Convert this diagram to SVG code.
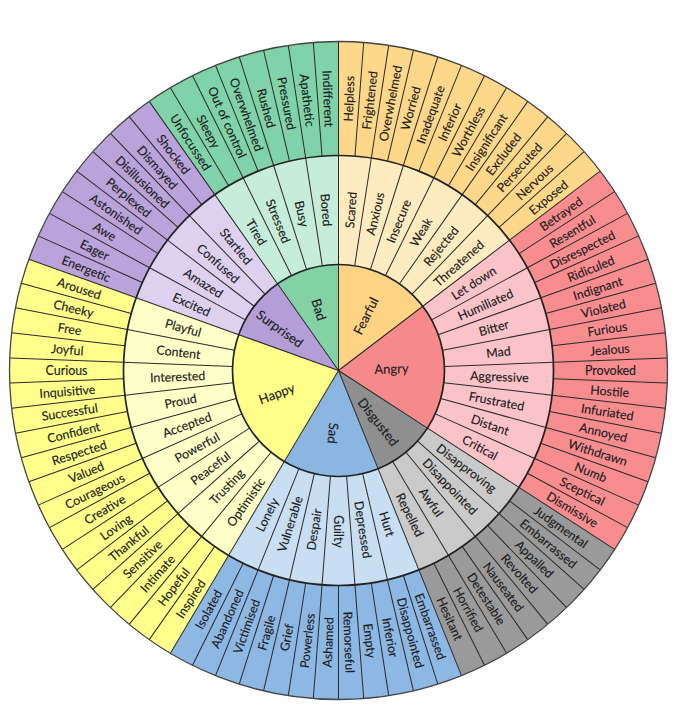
<svg xmlns="http://www.w3.org/2000/svg" width="678" height="714" viewBox="0 0 678 714">
<style>
text{font-family:Lato,"Open Sans","Liberation Sans",sans-serif;font-size:12.4px;fill:#1c1c1c;text-anchor:middle;dominant-baseline:central;stroke:#1c1c1c;stroke-width:0.15}
.core text{font-size:13px}
.d use{stroke:#2a2a2a;stroke-width:1}
.ring{fill:none;stroke:#222;stroke-width:1.7}
</style>
<defs>
<line id="lo" x1="0" y1="-215" x2="0" y2="-329"/>
<line id="lm" x1="0" y1="-106" x2="0" y2="-215"/>
<line id="lc" x1="0" y1="0" x2="0" y2="-106"/>
</defs>
<rect width="678" height="714" fill="#fff"/>

<g id="fearful">
<path fill="#FDD88A" d="M338.5 370.5L338.5 41.5A329 329 0 0 1 600.15 171.05Z"/>
<path fill="#FEECC0" d="M338.5 370.5L338.5 155.5A215 215 0 0 1 509.49 240.16Z"/>
<path fill="#FDD384" d="M338.5 370.5L338.5 264.5A106 106 0 0 1 422.8 306.24Z"/>
<g transform="translate(338.5 370.5)">
<text transform="rotate(2.195) translate(0 -272) rotate(-90)">Helpless</text>
<text transform="rotate(6.585) translate(0 -272) rotate(-90)">Frightened</text>
<text transform="rotate(10.976) translate(0 -272) rotate(-90)">Overwhelmed</text>
<text transform="rotate(15.366) translate(0 -272) rotate(-90)">Worried</text>
<text transform="rotate(19.756) translate(0 -272) rotate(-90)">Inadequate</text>
<text transform="rotate(24.146) translate(0 -272) rotate(-90)">Inferior</text>
<text transform="rotate(28.537) translate(0 -272) rotate(-90)">Worthless</text>
<text transform="rotate(32.927) translate(0 -272) rotate(-90)">Insignificant</text>
<text transform="rotate(37.317) translate(0 -272) rotate(-90)">Excluded</text>
<text transform="rotate(41.707) translate(0 -272) rotate(-90)">Persecuted</text>
<text transform="rotate(46.098) translate(0 -272) rotate(-90)">Nervous</text>
<text transform="rotate(50.488) translate(0 -272) rotate(-90)">Exposed</text>
<text transform="rotate(4.390) translate(0 -161) rotate(-90)">Scared</text>
<text transform="rotate(13.171) translate(0 -161) rotate(-90)">Anxious</text>
<text transform="rotate(21.951) translate(0 -161) rotate(-90)">Insecure</text>
<text transform="rotate(30.732) translate(0 -161) rotate(-90)">Weak</text>
<text transform="rotate(39.512) translate(0 -161) rotate(-90)">Rejected</text>
<text transform="rotate(48.293) translate(0 -161) rotate(-90)">Threatened</text>
<g class="core"><text transform="rotate(26.3) translate(0 -61) rotate(-90)">Fearful</text></g>
</g>
</g>

<g id="angry">
<path fill="#F88D8F" d="M338.5 370.5L600.15 171.05A329 329 0 0 1 614.65 549.33Z"/>
<path fill="#FAC3C7" d="M338.5 370.5L509.49 240.16A215 215 0 0 1 518.96 487.37Z"/>
<path fill="#F68A8A" d="M338.5 370.5L422.8 306.24A106 106 0 0 1 427.47 428.12Z"/>
<g transform="translate(338.5 370.5)">
<text transform="rotate(54.878) translate(0 -272) rotate(-90)">Betrayed</text>
<text transform="rotate(59.268) translate(0 -272) rotate(-90)">Resentful</text>
<text transform="rotate(63.659) translate(0 -272) rotate(-90)">Disrespected</text>
<text transform="rotate(68.049) translate(0 -272) rotate(-90)">Ridiculed</text>
<text transform="rotate(72.439) translate(0 -272) rotate(-90)">Indignant</text>
<text transform="rotate(76.829) translate(0 -272) rotate(-90)">Violated</text>
<text transform="rotate(81.220) translate(0 -272) rotate(-90)">Furious</text>
<text transform="rotate(85.610) translate(0 -272) rotate(-90)">Jealous</text>
<text transform="rotate(90) translate(0 -272) rotate(-90)">Provoked</text>
<text transform="rotate(94.390) translate(0 -272) rotate(-90)">Hostile</text>
<text transform="rotate(98.780) translate(0 -272) rotate(-90)">Infuriated</text>
<text transform="rotate(103.171) translate(0 -272) rotate(-90)">Annoyed</text>
<text transform="rotate(107.561) translate(0 -272) rotate(-90)">Withdrawn</text>
<text transform="rotate(111.951) translate(0 -272) rotate(-90)">Numb</text>
<text transform="rotate(116.341) translate(0 -272) rotate(-90)">Sceptical</text>
<text transform="rotate(120.732) translate(0 -272) rotate(-90)">Dismissive</text>
<text transform="rotate(57.073) translate(0 -161) rotate(-90)">Let down</text>
<text transform="rotate(65.854) translate(0 -161) rotate(-90)">Humiliated</text>
<text transform="rotate(74.634) translate(0 -161) rotate(-90)">Bitter</text>
<text transform="rotate(83.415) translate(0 -161) rotate(-90)">Mad</text>
<text transform="rotate(92.195) translate(0 -161) rotate(-90)">Aggressive</text>
<text transform="rotate(100.976) translate(0 -161) rotate(-90)">Frustrated</text>
<text transform="rotate(109.756) translate(0 -161) rotate(-90)">Distant</text>
<text transform="rotate(118.537) translate(0 -161) rotate(-90)">Critical</text>
<g class="core"><text transform="rotate(87.8) translate(0 -53) rotate(-90)">Angry</text></g>
</g>
</g>

<g id="disgusted">
<path fill="#9A9A9A" d="M338.5 370.5L614.65 549.33A329 329 0 0 1 461.49 675.65Z"/>
<path fill="#CACACA" d="M338.5 370.5L518.96 487.37A215 215 0 0 1 418.87 569.91Z"/>
<path fill="#8F8F8F" d="M338.5 370.5L427.47 428.12A106 106 0 0 1 378.12 468.82Z"/>
<g transform="translate(338.5 370.5)">
<text transform="rotate(125.122) translate(0 -272) rotate(-90)">Judgmental</text>
<text transform="rotate(129.512) translate(0 -272) rotate(-90)">Embarrassed</text>
<text transform="rotate(133.902) translate(0 -272) rotate(-90)">Appalled</text>
<text transform="rotate(138.293) translate(0 -272) rotate(-90)">Revolted</text>
<text transform="rotate(142.683) translate(0 -272) rotate(-90)">Nauseated</text>
<text transform="rotate(147.073) translate(0 -272) rotate(-90)">Detestable</text>
<text transform="rotate(151.463) translate(0 -272) rotate(-90)">Horrified</text>
<text transform="rotate(155.854) translate(0 -272) rotate(-90)">Hesitant</text>
<text transform="rotate(127.317) translate(0 -161) rotate(-90)">Disapproving</text>
<text transform="rotate(136.098) translate(0 -161) rotate(-90)">Disappointed</text>
<text transform="rotate(144.878) translate(0 -161) rotate(-90)">Awful</text>
<text transform="rotate(153.659) translate(0 -161) rotate(-90)">Repelled</text>
<g class="core"><text transform="rotate(142) translate(0 -65) rotate(-90)">Disgusted</text></g>
</g>
</g>

<g id="sad">
<path fill="#8DB8E4" d="M338.5 370.5L461.49 675.65A329 329 0 0 1 170.37 653.3Z"/>
<path fill="#C8DEF3" d="M338.5 370.5L418.87 569.91A215 215 0 0 1 228.63 555.31Z"/>
<path fill="#8BB6E2" d="M338.5 370.5L378.12 468.82A106 106 0 0 1 284.33 461.61Z"/>
<g transform="translate(338.5 370.5)">
<text transform="rotate(160.244) translate(0 -272) rotate(-90)">Embarrassed</text>
<text transform="rotate(164.634) translate(0 -272) rotate(-90)">Disappointed</text>
<text transform="rotate(169.024) translate(0 -272) rotate(-90)">Inferior</text>
<text transform="rotate(173.415) translate(0 -272) rotate(-90)">Empty</text>
<text transform="rotate(177.805) translate(0 -272) rotate(-90)">Remorseful</text>
<text transform="rotate(182.195) translate(0 -272) rotate(90)">Ashamed</text>
<text transform="rotate(186.585) translate(0 -272) rotate(90)">Powerless</text>
<text transform="rotate(190.976) translate(0 -272) rotate(90)">Grief</text>
<text transform="rotate(195.366) translate(0 -272) rotate(90)">Fragile</text>
<text transform="rotate(199.756) translate(0 -272) rotate(90)">Victimised</text>
<text transform="rotate(204.146) translate(0 -272) rotate(90)">Abandoned</text>
<text transform="rotate(208.537) translate(0 -272) rotate(90)">Isolated</text>
<text transform="rotate(162.439) translate(0 -161) rotate(-90)">Hurt</text>
<text transform="rotate(171.220) translate(0 -161) rotate(-90)">Depressed</text>
<text transform="rotate(180) translate(0 -161) rotate(-90)">Guilty</text>
<text transform="rotate(188.780) translate(0 -161) rotate(90)">Despair</text>
<text transform="rotate(197.561) translate(0 -161) rotate(90)">Vulnerable</text>
<text transform="rotate(206.341) translate(0 -161) rotate(90)">Lonely</text>
<g class="core"><text transform="rotate(184.7) translate(0 -63) rotate(-90)">Sad</text></g>
</g>
</g>

<g id="happy">
<path fill="#FFFF8C" d="M338.5 370.5L170.37 653.3A329 329 0 0 1 28.86 259.29Z"/>
<path fill="#FFFFC8" d="M338.5 370.5L228.63 555.31A215 215 0 0 1 136.15 297.83Z"/>
<path fill="#FFFF8A" d="M338.5 370.5L284.33 461.61A106 106 0 0 1 238.74 334.67Z"/>
<g transform="translate(338.5 370.5)">
<text transform="rotate(212.927) translate(0 -272) rotate(90)">Inspired</text>
<text transform="rotate(217.317) translate(0 -272) rotate(90)">Hopeful</text>
<text transform="rotate(221.707) translate(0 -272) rotate(90)">Intimate</text>
<text transform="rotate(226.098) translate(0 -272) rotate(90)">Sensitive</text>
<text transform="rotate(230.488) translate(0 -272) rotate(90)">Thankful</text>
<text transform="rotate(234.878) translate(0 -272) rotate(90)">Loving</text>
<text transform="rotate(239.268) translate(0 -272) rotate(90)">Creative</text>
<text transform="rotate(243.659) translate(0 -272) rotate(90)">Courageous</text>
<text transform="rotate(248.049) translate(0 -272) rotate(90)">Valued</text>
<text transform="rotate(252.439) translate(0 -272) rotate(90)">Respected</text>
<text transform="rotate(256.829) translate(0 -272) rotate(90)">Confident</text>
<text transform="rotate(261.220) translate(0 -272) rotate(90)">Successful</text>
<text transform="rotate(265.610) translate(0 -272) rotate(90)">Inquisitive</text>
<text transform="rotate(270) translate(0 -272) rotate(90)">Curious</text>
<text transform="rotate(274.390) translate(0 -272) rotate(90)">Joyful</text>
<text transform="rotate(278.780) translate(0 -272) rotate(90)">Free</text>
<text transform="rotate(283.171) translate(0 -272) rotate(90)">Cheeky</text>
<text transform="rotate(287.561) translate(0 -272) rotate(90)">Aroused</text>
<text transform="rotate(215.122) translate(0 -161) rotate(90)">Optimistic</text>
<text transform="rotate(223.902) translate(0 -161) rotate(90)">Trusting</text>
<text transform="rotate(232.683) translate(0 -161) rotate(90)">Peaceful</text>
<text transform="rotate(241.463) translate(0 -161) rotate(90)">Powerful</text>
<text transform="rotate(250.244) translate(0 -161) rotate(90)">Accepted</text>
<text transform="rotate(259.024) translate(0 -161) rotate(90)">Proud</text>
<text transform="rotate(267.805) translate(0 -161) rotate(90)">Interested</text>
<text transform="rotate(276.585) translate(0 -161) rotate(90)">Content</text>
<text transform="rotate(285.366) translate(0 -161) rotate(90)">Playful</text>
<g class="core"><text transform="rotate(249.8) translate(0 -66) rotate(90)">Happy</text></g>
</g>
</g>

<g id="surprised">
<path fill="#B9A3DA" d="M338.5 370.5L28.86 259.29A329 329 0 0 1 149.22 101.4Z"/>
<path fill="#DDD1EF" d="M338.5 370.5L136.15 297.83A215 215 0 0 1 214.81 194.65Z"/>
<path fill="#B49ED7" d="M338.5 370.5L238.74 334.67A106 106 0 0 1 277.52 283.8Z"/>
<g transform="translate(338.5 370.5)">
<text transform="rotate(291.951) translate(0 -272) rotate(90)">Energetic</text>
<text transform="rotate(296.341) translate(0 -272) rotate(90)">Eager</text>
<text transform="rotate(300.732) translate(0 -272) rotate(90)">Awe</text>
<text transform="rotate(305.122) translate(0 -272) rotate(90)">Astonished</text>
<text transform="rotate(309.512) translate(0 -272) rotate(90)">Perplexed</text>
<text transform="rotate(313.902) translate(0 -272) rotate(90)">Disillusioned</text>
<text transform="rotate(318.293) translate(0 -272) rotate(90)">Dismayed</text>
<text transform="rotate(322.683) translate(0 -272) rotate(90)">Shocked</text>
<text transform="rotate(294.146) translate(0 -161) rotate(90)">Excited</text>
<text transform="rotate(302.927) translate(0 -161) rotate(90)">Amazed</text>
<text transform="rotate(311.707) translate(0 -161) rotate(90)">Confused</text>
<text transform="rotate(320.488) translate(0 -161) rotate(90)">Startled</text>
<g class="core"><text transform="rotate(305.7) translate(0 -72) rotate(90)">Surprised</text></g>
</g>
</g>

<g id="bad">
<path fill="#80D3A8" d="M338.5 370.5L149.22 101.4A329 329 0 0 1 338.5 41.5Z"/>
<path fill="#C6EDD9" d="M338.5 370.5L214.81 194.65A215 215 0 0 1 338.5 155.5Z"/>
<path fill="#84D1A6" d="M338.5 370.5L277.52 283.8A106 106 0 0 1 338.5 264.5Z"/>
<g transform="translate(338.5 370.5)">
<text transform="rotate(327.073) translate(0 -272) rotate(90)">Unfocussed</text>
<text transform="rotate(331.463) translate(0 -272) rotate(90)">Sleepy</text>
<text transform="rotate(335.854) translate(0 -272) rotate(90)">Out of control</text>
<text transform="rotate(340.244) translate(0 -272) rotate(90)">Overwhelmed</text>
<text transform="rotate(344.634) translate(0 -272) rotate(90)">Rushed</text>
<text transform="rotate(349.024) translate(0 -272) rotate(90)">Pressured</text>
<text transform="rotate(353.415) translate(0 -272) rotate(90)">Apathetic</text>
<text transform="rotate(357.805) translate(0 -272) rotate(90)">Indifferent</text>
<text transform="rotate(329.268) translate(0 -161) rotate(90)">Tired</text>
<text transform="rotate(338.049) translate(0 -161) rotate(90)">Stressed</text>
<text transform="rotate(346.829) translate(0 -161) rotate(90)">Busy</text>
<text transform="rotate(355.610) translate(0 -161) rotate(90)">Bored</text>
<g class="core"><text transform="rotate(342.5) translate(0 -64) rotate(90)">Bad</text></g>
</g>
</g>

<g id="connectors" transform="translate(338.5 370.5)">
<g class="d">
<use href="#lo" transform="rotate(0)"/><use href="#lo" transform="rotate(4.390)"/><use href="#lo" transform="rotate(8.780)"/><use href="#lo" transform="rotate(13.171)"/><use href="#lo" transform="rotate(17.561)"/><use href="#lo" transform="rotate(21.951)"/><use href="#lo" transform="rotate(26.341)"/><use href="#lo" transform="rotate(30.732)"/><use href="#lo" transform="rotate(35.122)"/><use href="#lo" transform="rotate(39.512)"/><use href="#lo" transform="rotate(43.902)"/><use href="#lo" transform="rotate(48.293)"/><use href="#lo" transform="rotate(52.683)"/><use href="#lo" transform="rotate(57.073)"/><use href="#lo" transform="rotate(61.463)"/><use href="#lo" transform="rotate(65.854)"/><use href="#lo" transform="rotate(70.244)"/><use href="#lo" transform="rotate(74.634)"/><use href="#lo" transform="rotate(79.024)"/><use href="#lo" transform="rotate(83.415)"/><use href="#lo" transform="rotate(87.805)"/><use href="#lo" transform="rotate(92.195)"/><use href="#lo" transform="rotate(96.585)"/><use href="#lo" transform="rotate(100.976)"/><use href="#lo" transform="rotate(105.366)"/><use href="#lo" transform="rotate(109.756)"/><use href="#lo" transform="rotate(114.146)"/><use href="#lo" transform="rotate(118.537)"/><use href="#lo" transform="rotate(122.927)"/><use href="#lo" transform="rotate(127.317)"/><use href="#lo" transform="rotate(131.707)"/><use href="#lo" transform="rotate(136.098)"/><use href="#lo" transform="rotate(140.488)"/><use href="#lo" transform="rotate(144.878)"/><use href="#lo" transform="rotate(149.268)"/><use href="#lo" transform="rotate(153.659)"/><use href="#lo" transform="rotate(158.049)"/><use href="#lo" transform="rotate(162.439)"/><use href="#lo" transform="rotate(166.829)"/><use href="#lo" transform="rotate(171.220)"/><use href="#lo" transform="rotate(175.610)"/><use href="#lo" transform="rotate(180)"/><use href="#lo" transform="rotate(184.390)"/><use href="#lo" transform="rotate(188.780)"/><use href="#lo" transform="rotate(193.171)"/><use href="#lo" transform="rotate(197.561)"/><use href="#lo" transform="rotate(201.951)"/><use href="#lo" transform="rotate(206.341)"/><use href="#lo" transform="rotate(210.732)"/><use href="#lo" transform="rotate(215.122)"/><use href="#lo" transform="rotate(219.512)"/><use href="#lo" transform="rotate(223.902)"/><use href="#lo" transform="rotate(228.293)"/><use href="#lo" transform="rotate(232.683)"/><use href="#lo" transform="rotate(237.073)"/><use href="#lo" transform="rotate(241.463)"/><use href="#lo" transform="rotate(245.854)"/><use href="#lo" transform="rotate(250.244)"/><use href="#lo" transform="rotate(254.634)"/><use href="#lo" transform="rotate(259.024)"/><use href="#lo" transform="rotate(263.415)"/><use href="#lo" transform="rotate(267.805)"/><use href="#lo" transform="rotate(272.195)"/><use href="#lo" transform="rotate(276.585)"/><use href="#lo" transform="rotate(280.976)"/><use href="#lo" transform="rotate(285.366)"/><use href="#lo" transform="rotate(289.756)"/><use href="#lo" transform="rotate(294.146)"/><use href="#lo" transform="rotate(298.537)"/><use href="#lo" transform="rotate(302.927)"/><use href="#lo" transform="rotate(307.317)"/><use href="#lo" transform="rotate(311.707)"/><use href="#lo" transform="rotate(316.098)"/><use href="#lo" transform="rotate(320.488)"/><use href="#lo" transform="rotate(324.878)"/><use href="#lo" transform="rotate(329.268)"/><use href="#lo" transform="rotate(333.659)"/><use href="#lo" transform="rotate(338.049)"/><use href="#lo" transform="rotate(342.439)"/><use href="#lo" transform="rotate(346.829)"/><use href="#lo" transform="rotate(351.220)"/><use href="#lo" transform="rotate(355.610)"/>
<use href="#lm" transform="rotate(0)"/><use href="#lm" transform="rotate(8.780)"/><use href="#lm" transform="rotate(17.561)"/><use href="#lm" transform="rotate(26.341)"/><use href="#lm" transform="rotate(35.122)"/><use href="#lm" transform="rotate(43.902)"/><use href="#lm" transform="rotate(52.683)"/><use href="#lm" transform="rotate(61.463)"/><use href="#lm" transform="rotate(70.244)"/><use href="#lm" transform="rotate(79.024)"/><use href="#lm" transform="rotate(87.805)"/><use href="#lm" transform="rotate(96.585)"/><use href="#lm" transform="rotate(105.366)"/><use href="#lm" transform="rotate(114.146)"/><use href="#lm" transform="rotate(122.927)"/><use href="#lm" transform="rotate(131.707)"/><use href="#lm" transform="rotate(140.488)"/><use href="#lm" transform="rotate(149.268)"/><use href="#lm" transform="rotate(158.049)"/><use href="#lm" transform="rotate(166.829)"/><use href="#lm" transform="rotate(175.610)"/><use href="#lm" transform="rotate(184.390)"/><use href="#lm" transform="rotate(193.171)"/><use href="#lm" transform="rotate(201.951)"/><use href="#lm" transform="rotate(210.732)"/><use href="#lm" transform="rotate(219.512)"/><use href="#lm" transform="rotate(228.293)"/><use href="#lm" transform="rotate(237.073)"/><use href="#lm" transform="rotate(245.854)"/><use href="#lm" transform="rotate(254.634)"/><use href="#lm" transform="rotate(263.415)"/><use href="#lm" transform="rotate(272.195)"/><use href="#lm" transform="rotate(280.976)"/><use href="#lm" transform="rotate(289.756)"/><use href="#lm" transform="rotate(298.537)"/><use href="#lm" transform="rotate(307.317)"/><use href="#lm" transform="rotate(316.098)"/><use href="#lm" transform="rotate(324.878)"/><use href="#lm" transform="rotate(333.659)"/><use href="#lm" transform="rotate(342.439)"/><use href="#lm" transform="rotate(351.220)"/>
<use href="#lc" transform="rotate(0)"/><use href="#lc" transform="rotate(52.683)"/><use href="#lc" transform="rotate(122.927)"/><use href="#lc" transform="rotate(158.049)"/><use href="#lc" transform="rotate(210.732)"/><use href="#lc" transform="rotate(289.756)"/><use href="#lc" transform="rotate(324.878)"/>
</g>
<circle class="ring" r="106"/>
<circle class="ring" r="215"/>
<circle class="ring" r="329" style="stroke:#444;stroke-width:1.3"/>
</g>
</svg>
